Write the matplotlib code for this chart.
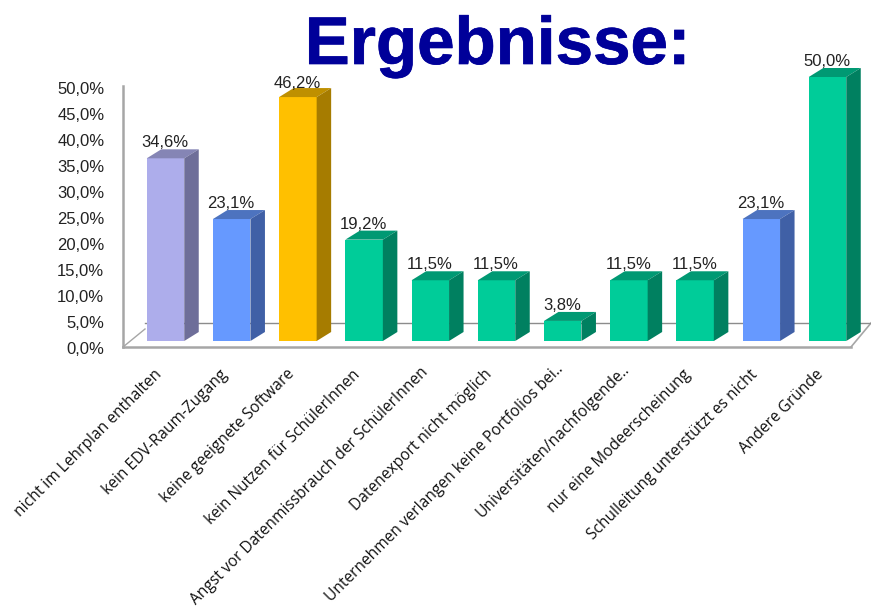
import matplotlib
matplotlib.use('Agg')
import matplotlib.pyplot as plt
import matplotlib.patheffects as pe
from matplotlib.transforms import ScaledTranslation

categories = ['nicht im Lehrplan enthalten', 'kein EDV-Raum-Zugang', 'keine geeignete Software',
              'kein Nutzen für SchülerInnen', 'Angst vor Datenmissbrauch der SchülerInnen',
              'Datenexport nicht möglich', 'Unternehmen verlangen keine Portfolios bei..',
              'Universitäten/nachfolgende..', 'nur eine Modeerscheinung',
              'Schulleitung unterstützt es nicht', 'Andere Gründe']
values = [34.6, 23.1, 46.2, 19.2, 11.5, 11.5, 3.8, 11.5, 11.5, 23.1, 50.0]
bar_colors = ['lav', 'blue', 'gold', 'green', 'green', 'green', 'green', 'green', 'green', 'blue', 'green']
y_ticks = [0, 5, 10, 15, 20, 25, 30, 35, 40, 45, 50]

# front, top, side
shades = {'lav': ('#ADADEB', '#8585B5', '#6E6E99'),
          'blue': ('#6699FF', '#4D73BF', '#4060A6'),
          'gold': ('#FFC000', '#BF9000', '#A67C00'),
          'green': ('#00CC99', '#009973', '#008060')}

W, H = 871, 608
plt.rcParams['font.family'] = ['Liberation Sans', 'DejaVu Sans']
fig = plt.figure(figsize=(W / 100, H / 100), dpi=100)

def box(l, t, r, b):
    return [l / W, 1 - b / H, (r - l) / W, (b - t) / H]

def nudge(lab, px_right, px_up):
    lab.set_transform(lab.get_transform() + ScaledTranslation(px_right / 100, px_up / 100, fig.dpi_scale_trans))

# wall and floor, value axis
wall = fig.add_axes(box(123, 86, 851, 347))
wall.set_xlim(123, 851)
wall.set_ylim(0, 50)
wall.set_xticks([])
wall.set_yticks(y_ticks)
wall.set_yticklabels([f'{v:.1f}'.replace('.', ',') + '%' for v in y_ticks], fontsize=12, color='#222222')
wall.tick_params(axis='y', length=0, pad=13.5)
for lab in wall.get_yticklabels():
    nudge(lab, 0, -1.5)
for s in ['top', 'right']:
    wall.spines[s].set_visible(False)
for s in ['left', 'bottom']:
    wall.spines[s].set_color('#A6A6A6')
    wall.spines[s].set_linewidth(1.8)
wall.patch.set_alpha(0)
back = 24 / 261 * 50
wall.plot([123, 145], [0, back * 0.75], color='#A6A6A6', lw=1.0, clip_on=False)
wall.plot([851, 871], [0, back], color='#A6A6A6', lw=1.2, clip_on=False)
wall.plot([145, 871], [back, back], color='#8C8C8C', lw=1.0, clip_on=False)

# bars
px_x = 66.2
px_y = 5.28
ax = fig.add_axes(box(123, 86, 851, 347), zorder=2)
ax.set_xlim((123 - 165.5) / px_x, (851 - 165.5) / px_x)
ax.set_ylim(-6 / px_y, (341 - 86) / px_y)
ax.patch.set_alpha(0)
for s in ax.spines.values():
    s.set_visible(False)
ax.set_yticks([])
xs = list(range(len(values)))
width = 37.5 / px_x
dx = 14.5 / px_x
dy = 9 / px_y
for x, v, c in zip(xs, values, bar_colors):
    front, top, side = shades[c]
    ax.bar(x, v, width=width, color=front, zorder=3, clip_on=False)
    l, r = x - width / 2, x + width / 2
    ax.fill([l, r, r + dx, l + dx], [v, v, v + dy, v + dy], color=top, lw=0, zorder=3, clip_on=False)
    ax.fill([r, r + dx, r + dx, r], [0, dy, v + dy, v], color=side, lw=0, zorder=3, clip_on=False)
    txt = ax.text(x - 0.01, v + dy - 0.2, f'{v:.1f}'.replace('.', ',') + '%', ha='center', va='bottom',
                  fontsize=12, color='#222222', zorder=4, clip_on=False)
    # the tallest-but-one label sits lower, right under the title
    if x == 2:
        nudge(txt, 0, -2)
ax.set_xticks(xs)
ax.set_xticklabels(categories, rotation=45, ha='right', va='top', rotation_mode='anchor',
                   fontsize=11.2, family=['Open Sans', 'DejaVu Sans'], color='#111111')
ax.tick_params(axis='x', length=0, pad=14)
for lab in ax.get_xticklabels():
    # the two cut-off labels sit a bit further along
    if lab.get_text().endswith('..'):
        nudge(lab, -7, 5)
    elif lab.get_text().startswith('Angst'):
        nudge(lab, -10, 2)
    else:
        nudge(lab, -12, 0)

t = fig.text(497.5 / W, 1 - 47 / H, 'Ergebnisse:', ha='center', va='center', fontsize=48.5,
             fontweight='bold', color='#000099')
t.set_path_effects([pe.withStroke(linewidth=0.5, foreground='#000099')])
fig.savefig('out.png', dpi=100)
